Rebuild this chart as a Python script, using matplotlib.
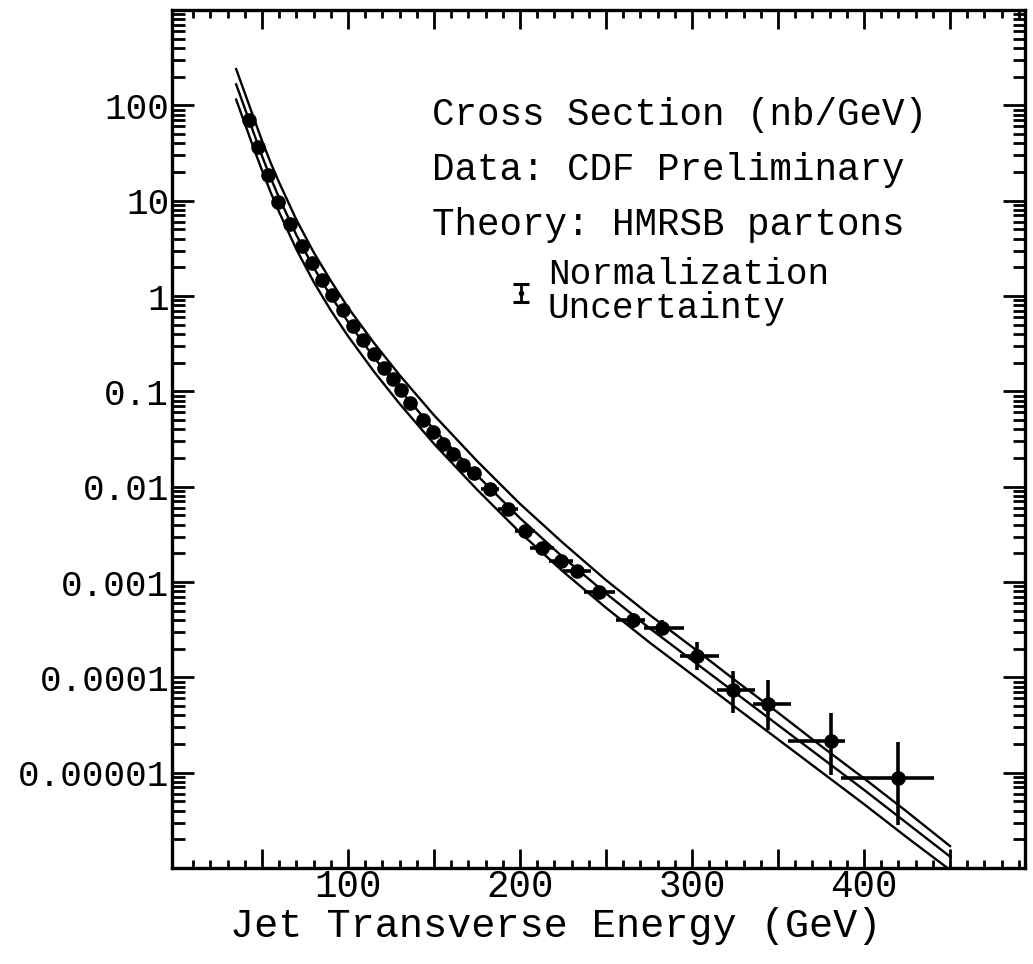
import numpy as np
import matplotlib.pyplot as plt
from matplotlib.ticker import FixedLocator, FixedFormatter, LogLocator, NullFormatter

# theory curves (log10 of cross section) at fixed Et nodes
theory_et = [35, 40, 45, 50, 55, 60, 70, 80, 90, 100, 115, 130, 150, 175, 200,
             225, 250, 275, 300, 325, 350, 375, 400, 425, 450]
theory_mid = [2.22, 1.97, 1.72, 1.47, 1.24, 1.03, 0.64, 0.30, 0.00, -0.27,
              -0.64, -0.98, -1.40, -1.88, -2.33, -2.74, -3.12, -3.48, -3.82,
              -4.16, -4.50, -4.84, -5.18, -5.53, -5.88]
theory_hi = [2.38, 2.13, 1.88, 1.63, 1.40, 1.19, 0.80, 0.46, 0.16, -0.12,
             -0.49, -0.83, -1.25, -1.73, -2.18, -2.59, -2.98, -3.34, -3.68,
             -4.03, -4.37, -4.72, -5.06, -5.41, -5.77]
theory_lo = [2.06, 1.81, 1.56, 1.32, 1.09, 0.88, 0.49, 0.15, -0.15, -0.42,
             -0.79, -1.13, -1.55, -2.03, -2.48, -2.89, -3.27, -3.63, -3.97,
             -4.31, -4.65, -4.99, -5.33, -5.68, -6.02]

# CDF preliminary data points
data_et = [42.4, 47.7, 53.5, 59.5, 66.3, 73.3, 79, 85, 91, 97, 103, 109, 115,
           121, 126, 131, 136, 143.6, 149.4, 155, 161, 167, 173, 182.6, 193,
           203, 213, 224, 233, 246, 265.7, 282.6, 302.9, 323.8, 344, 381, 419.8]
data_log = [1.85, 1.56, 1.27, 0.99, 0.76, 0.52, 0.35, 0.17, 0.01, -0.15, -0.31,
            -0.46, -0.61, -0.75, -0.87, -0.99, -1.12, -1.30, -1.43, -1.55,
            -1.66, -1.77, -1.86, -2.02, -2.23, -2.47, -2.64, -2.78, -2.88,
            -3.10, -3.40, -3.48, -3.78, -4.13, -4.28, -4.67, -5.06]
xerr_lo = [0]*20 + [3, 3, 4, 5, 6, 6, 7, 7, 8, 9, 9.7, 10.7, 9.7, 9, 8.7, 25, 33]
xerr_hi = [0]*20 + [3, 3, 4, 5, 6, 6, 7, 7, 8, 9, 6.8, 12.8, 12.6, 12.6, 13.6, 8, 21]
ylog_up = [0.03]*23 + [0.04, 0.04, 0.05, 0.05, 0.05, 0.06, 0.06, 0.08, 0.08,
                       0.15, 0.20, 0.25, 0.30, 0.38]
ylog_dn = [0.03]*23 + [0.04, 0.04, 0.05, 0.05, 0.05, 0.06, 0.06, 0.08, 0.08,
                       0.14, 0.24, 0.27, 0.35, 0.49]

mono = 'Liberation Mono'

fig = plt.figure(figsize=(10.33, 9.64), dpi=100)
ax = fig.add_axes([172/1033, 1 - 868/964, (1025-172)/1033, (868-10)/964])

for lg in (theory_hi, theory_mid, theory_lo):
    ax.plot(theory_et, 10**np.array(lg), color='black', lw=1.7)

y = 10**np.array(data_log)
yerr = [y - 10**(np.array(data_log) - np.array(ylog_dn)),
        10**(np.array(data_log) + np.array(ylog_up)) - y]
ax.errorbar(data_et, y, xerr=[xerr_lo, xerr_hi], yerr=yerr, fmt='o',
            color='black', ms=9.5, lw=2.6, capsize=0)

# normalization uncertainty symbol
ax.errorbar([200.5], [10**0.032], yerr=[[10**0.032 - 10**(-0.06)],
            [10**0.13 - 10**0.032]], fmt='o', color='black', ms=3,
            lw=2.0, capsize=6, capthick=2.2)

ax.set_yscale('log')
ax.set_xlim(-2.3, 493.6)
ax.set_ylim(1e-6, 1e3)

ax.xaxis.set_major_locator(FixedLocator(np.arange(50, 500, 50)))
ax.xaxis.set_major_formatter(FixedFormatter(['' if v % 100 else str(v)
                                             for v in range(50, 500, 50)]))
ax.xaxis.set_minor_locator(FixedLocator(np.arange(10, 500, 10)))
ax.yaxis.set_major_locator(FixedLocator([1e-5, 1e-4, 1e-3, 1e-2, 1e-1, 1, 10, 100]))
ax.yaxis.set_major_formatter(FixedFormatter(['0.00001', '0.0001', '0.001',
                                             '0.01', '0.1', '1', '10', '100']))
ax.yaxis.set_minor_locator(LogLocator(base=10, subs=np.arange(2, 10), numticks=20))
ax.yaxis.set_minor_formatter(NullFormatter())

ax.tick_params(axis='both', which='both', direction='in', width=2, color='black')
ax.tick_params(axis='x', which='major', length=14, top=True, labelsize=27, pad=1)
ax.tick_params(axis='x', which='minor', length=6, top=True)
ax.tick_params(axis='y', which='major', length=16, right=True, labelsize=26, pad=2)
ax.tick_params(axis='y', which='minor', length=9, right=True)
for lab in ax.get_xticklabels() + ax.get_yticklabels():
    lab.set_family(mono)

for s in ax.spines.values():
    s.set_linewidth(2.4)

# x axis title, placed as in the scan (left of axes centre)
fig.text(556/1033, 1 - 926/964, 'Jet Transverse Energy (GeV)', fontsize=29,
         family=mono, ha='center', va='center')

fig.text(432/1033, 1 - 115/964, 'Cross Section (nb/GeV)', fontsize=27,
         family=mono, va='center')
fig.text(432/1033, 1 - 170/964, 'Data: CDF Preliminary', fontsize=27,
         family=mono, va='center')
fig.text(432/1033, 1 - 225/964, 'Theory: HMRSB partons', fontsize=27,
         family=mono, va='center')
fig.text(548/1033, 1 - 274/964, 'Normalization', fontsize=26, family=mono,
         va='center')
fig.text(548/1033, 1 - 309/964, 'Uncertainty', fontsize=26, family=mono,
         va='center')

fig.savefig('out.png', dpi=100)
